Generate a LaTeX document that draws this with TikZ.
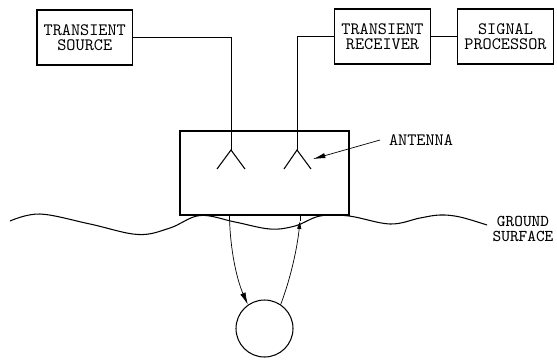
\documentclass[tikz,border=0pt]{standalone}
\usepackage{fontspec}
\usetikzlibrary{
  arrows.meta,
  positioning
}
\tikzset{
    blockbox/.style={draw, rectangle, line width=0.6pt, minimum width=1.91cm, minimum height=1.1cm, inner sep=0pt, align=center, font=\fontsize{9.9}{8.8}\selectfont\ttfamily},
    wireline/.style={line width=0.4pt},
    surfline/.style={line width=0.6pt},
    tagtext/.style={inner sep=0pt, align=center, font=\fontsize{9.9}{8.8}\selectfont\ttfamily}
}

\begin{document}
\begin{tikzpicture}[x=0.02cm, y=-0.02cm]
            \useasboundingbox (0,0) rectangle (557,359);
            % instrument blocks
            \node[blockbox] (source) at (84.75,37.5) {TRANSIENT\\SOURCE};
            \node[blockbox] (receiver) at (382.5,36.5) {TRANSIENT\\RECEIVER};
            \node[blockbox] (processor) at (505.5,36.5) {SIGNAL\\PROCESSOR};
            \node[draw, rectangle, line width=0.6pt, minimum width=3.38cm, minimum height=1.68cm, inner sep=0pt] (housing) at (264.5,173) {};
            \node[draw, circle, line width=0.6pt, minimum size=1.14cm, inner sep=0pt] (target) at (264.5,328.5) {};
            % antennas
            \coordinate (txapex) at (231,150);
            \coordinate (rxapex) at (297,150);
            \draw[wireline] (source.east) -| (txapex);
            \draw[wireline] (receiver.west) -| (rxapex);
            \draw[wireline] (receiver.east) -- (processor.west);
            \draw[surfline] (217,169) -- (txapex) -- (245,169);
            \draw[surfline] (284,169) -- (rxapex) -- (311,169);
            \node[tagtext] (antennatag) at (421,140) {ANTENNA};
            \coordinate (tagfoot) at (380,140);
            \coordinate (tagtip) at (313,159);
            \draw[wireline, -{Latex[length=7pt, width=3pt]}] (tagfoot) -- (tagtip);
            % ground
            \draw[surfline] plot[smooth, tension=0.6] coordinates {(10,221) (40,214) (90,224) (138,234.5) (170,228) (200,215.5) (235,222) (270,229) (295,226) (320,216) (349,216) (390,224) (420,218) (440,215) (460,217) (487,225)};
            \node[tagtext, font=\fontsize{9.4}{8.3}\selectfont\ttfamily] (groundtag) at (523,229) {GROUND\\SURFACE};
            % pulse paths
            \coordinate (downfoot) at (229.5,216);
            \coordinate (backfoot) at (300,216);
            \coordinate (backtip) at (300,221);
            \draw[wireline, -{Latex[length=7pt, width=3.2pt]}] (downfoot) .. controls (230,250) and (237,280) .. (target.125);
            \draw[wireline] (backfoot) -- (backtip);
            \draw[wireline, -{Latex[length=4.5pt, width=2.6pt]}] (target.56) .. controls (290,280) and (297,250) .. (backtip);
        \end{tikzpicture}
\end{document}
